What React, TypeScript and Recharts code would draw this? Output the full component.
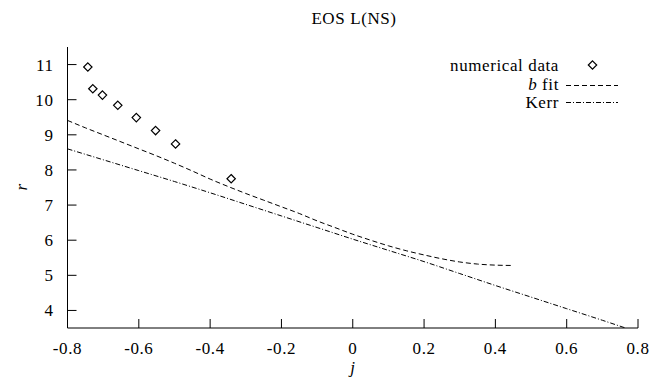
import { ComposedChart, Line, Scatter, XAxis, YAxis } from 'recharts';

// numerical data (diamonds)
const numJ = [-0.743, -0.729, -0.702, -0.659, -0.607, -0.553, -0.497, -0.341];
const numR = [10.93, 10.31, 10.13, 9.84, 9.49, 9.12, 8.74, 7.75];

// b fit (dashed)
const fitJ = [-0.8, -0.75, -0.7, -0.65, -0.6, -0.55, -0.5, -0.45, -0.4, -0.35, -0.3, -0.25, -0.2, -0.15, -0.1, -0.05, 0, 0.05, 0.1, 0.15, 0.2, 0.25, 0.3, 0.35, 0.4, 0.45];
const fitR = [9.41, 9.2, 9.0, 8.8, 8.6, 8.4, 8.19, 7.97, 7.74, 7.53, 7.33, 7.14, 6.95, 6.76, 6.55, 6.36, 6.17, 6.0, 5.84, 5.7, 5.58, 5.47, 5.38, 5.32, 5.29, 5.28];

// Kerr (dash-dot)
const kerrJ = [-0.8, -0.7, -0.6, -0.5, -0.4, -0.3, -0.2, -0.1, 0, 0.1, 0.2, 0.3, 0.4, 0.5, 0.6, 0.7, 0.765];
const kerrR = [8.6, 8.29, 7.98, 7.67, 7.35, 7.02, 6.69, 6.36, 6.03, 5.71, 5.39, 5.05, 4.71, 4.38, 4.05, 3.72, 3.5];

const xTicks = [-0.8, -0.6, -0.4, -0.2, 0, 0.2, 0.4, 0.6, 0.8];
const yTicks = [4, 5, 6, 7, 8, 9, 10, 11];

const numData = numJ.map((j, i) => ({ j, r: numR[i] }));
const fitData = fitJ.map((j, i) => ({ j, r: fitR[i] }));
const kerrData = kerrJ.map((j, i) => ({ j, r: kerrR[i] }));

const FONT = "'Liberation Serif', 'DejaVu Serif', serif";
const FS = 17;
const TICK = 9;
const textStyle = { fontFamily: FONT, fontSize: FS, letterSpacing: 0.6 };

const fmtX = (v: number) => (v === 0 ? '0' : v.toFixed(1));

const BottomTick = (props: any) => {
  const { x, y, payload } = props;
  return (
    <g>
      <line x1={x} y1={y} x2={x} y2={y - TICK} stroke="#000" />
      <text x={x} y={y + 26} textAnchor="middle" style={textStyle} fill="#000">
        {fmtX(payload.value)}
      </text>
    </g>
  );
};

const TopTick = (props: any) => {
  const { x, y } = props;
  return <line x1={x} y1={y} x2={x} y2={y + TICK} stroke="#000" />;
};

const LeftTick = (props: any) => {
  const { x, y, payload } = props;
  return (
    <g>
      <line x1={x} y1={y} x2={x + TICK} y2={y} stroke="#000" />
      <text x={x - 14} y={y + 6} textAnchor="end" style={textStyle} fill="#000">
        {payload.value}
      </text>
    </g>
  );
};

const RightTick = (props: any) => {
  const { x, y } = props;
  return <line x1={x} y1={y} x2={x - TICK} y2={y} stroke="#000" />;
};

const Diamond = (props: any) => {
  const { cx, cy } = props;
  const s = 4.2;
  return (
    <path
      d={`M${cx},${cy - s}L${cx + s},${cy}L${cx},${cy + s}L${cx - s},${cy}Z`}
      fill="none"
      stroke="#000"
      strokeWidth={1.2}
    />
  );
};

export default function App() {
  return (
    <div style={{ position: 'absolute', left: 0, top: 0, width: 666, height: 387, background: '#fff' }}>
      <ComposedChart width={666} height={387} margin={{ top: 47, right: 28, bottom: 0, left: 0 }}>
        <XAxis
          xAxisId={0}
          type="number"
          dataKey="j"
          domain={[-0.8, 0.8]}
          ticks={xTicks}
          allowDataOverflow
          height={59}
          tickSize={0}
          tickMargin={0}
          tick={<BottomTick />}
          axisLine={{ stroke: '#000' }}
          tickLine={false}
        />
        <XAxis
          xAxisId="top"
          orientation="top"
          type="number"
          dataKey="j"
          domain={[-0.8, 0.8]}
          ticks={xTicks}
          allowDataOverflow
          height={0}
          tickSize={0}
          tickMargin={0}
          tick={<TopTick />}
          axisLine={{ stroke: '#000' }}
          tickLine={false}
        />
        <YAxis
          yAxisId={0}
          type="number"
          dataKey="r"
          domain={[3.5, 11.5]}
          ticks={yTicks}
          allowDataOverflow
          width={67.5}
          tickSize={0}
          tickMargin={0}
          tick={<LeftTick />}
          axisLine={{ stroke: '#000' }}
          tickLine={false}
        />
        <YAxis
          yAxisId="right"
          orientation="right"
          type="number"
          dataKey="r"
          domain={[3.5, 11.5]}
          ticks={yTicks}
          allowDataOverflow
          width={0}
          tickSize={0}
          tickMargin={0}
          tick={<RightTick />}
          axisLine={{ stroke: '#000' }}
          tickLine={false}
        />
        <Line
          data={fitData}
          dataKey="r"
          type="monotone"
          stroke="#000"
          strokeWidth={1}
          strokeDasharray="5 3"
          dot={false}
          isAnimationActive={false}
        />
        <Line
          data={kerrData}
          dataKey="r"
          type="monotone"
          stroke="#000"
          strokeWidth={1}
          strokeDasharray="5 2 1 2"
          dot={false}
          isAnimationActive={false}
        />
        <Scatter data={numData} dataKey="r" shape={<Diamond />} isAnimationActive={false} />
      </ComposedChart>
      <svg
        width={666}
        height={387}
        style={{ position: 'absolute', left: 0, top: 0, pointerEvents: 'none', ...textStyle }}
      >
        <text x={354} y={24} textAnchor="middle" style={textStyle}>EOS L(NS)</text>
        <text x={353} y={373} textAnchor="middle" style={{ ...textStyle, fontStyle: 'italic' }}>j</text>
        <text
          x={0}
          y={0}
          textAnchor="middle"
          style={{ ...textStyle, fontStyle: 'italic' }}
          transform="translate(27,187) rotate(-90)"
        >
          r
        </text>
        <text x={559} y={71} textAnchor="end" style={textStyle}>numerical data</text>
        <path d="M592.5,60.8L596.7,65L592.5,69.2L588.3,65Z" fill="none" stroke="#000" strokeWidth={1.2} />
        <text x={559} y={89.5} textAnchor="end" style={textStyle}>
          <tspan fontStyle="italic">b</tspan> fit
        </text>
        <line x1={566} y1={85.5} x2={618} y2={85.5} stroke="#000" strokeDasharray="5 3" />
        <text x={559} y={108} textAnchor="end" style={textStyle}>Kerr</text>
        <line x1={566} y1={102.5} x2={618} y2={102.5} stroke="#000" strokeDasharray="5 2 1 2" />
      </svg>
    </div>
  );
}
